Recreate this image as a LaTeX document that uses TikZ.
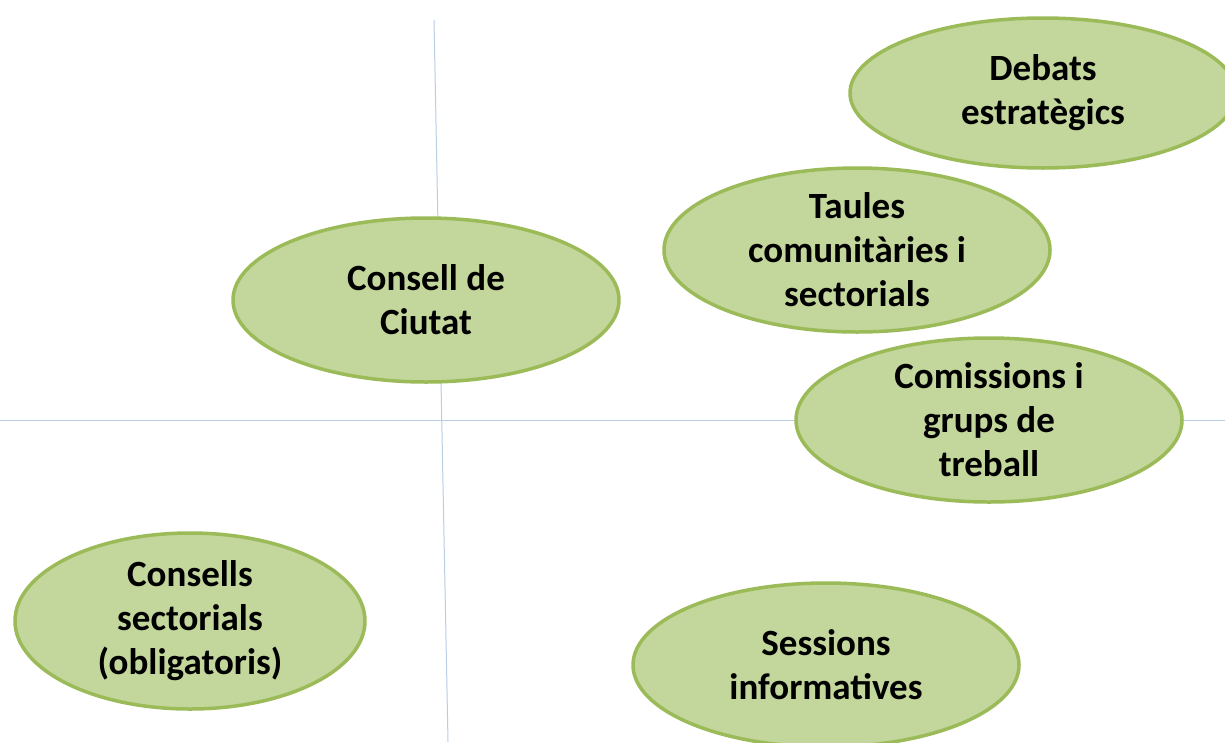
\documentclass[tikz,border=0pt]{standalone}
\usepackage{fontspec}
\setmainfont{Carlito}
\usepackage{tikz}
\usetikzlibrary{shapes,positioning}
\definecolor{ovalfill}{HTML}{C3D69B}
\definecolor{ovaldraw}{HTML}{9BBB59}
\definecolor{axisblue}{HTML}{B9CDE5}
\tikzstyle{axis} = [draw=axisblue, line width=1pt]
\tikzstyle{oval} = [ellipse, draw=ovaldraw, fill=ovalfill, line width=3.5pt, minimum width=386pt, minimum height=164pt, inner xsep=0pt, inner ysep=-12pt, align=center, font=\fontsize{37}{44}\selectfont\bfseries]

\begin{document}
\begin{tikzpicture}[x=1pt, y=-1pt]
\useasboundingbox (0,0) rectangle (1225,742);
\clip (0,0) rectangle (1225,742);

\coordinate (vtop) at (434,20);
\coordinate (vbot) at (448,742);
\coordinate (hleft) at (0,420);
\coordinate (hright) at (1225,420);
\draw [axis] (vtop) -- (vbot);
\draw [axis] (hleft) -- (hright);

\node [oval, minimum height=150pt] (debats) at (1043,93) {Debats\\estratègics};
\node [oval] (taules) at (857,250) {Taules\\comunitàries i\\sectorials};
\node [oval] (consell) at (426,300) {Consell de\\Ciutat};
\node [oval] (comissions) at (989,420) {Comissions i\\grups de\\treball};
\node [oval, minimum width=350pt, minimum height=176pt] (sectorials) at (190,621) {Consells\\sectorials\\(obligatoris)};
\node [oval] (sessions) at (826,665) {Sessions\\informatives};
\end{tikzpicture}
\end{document}
